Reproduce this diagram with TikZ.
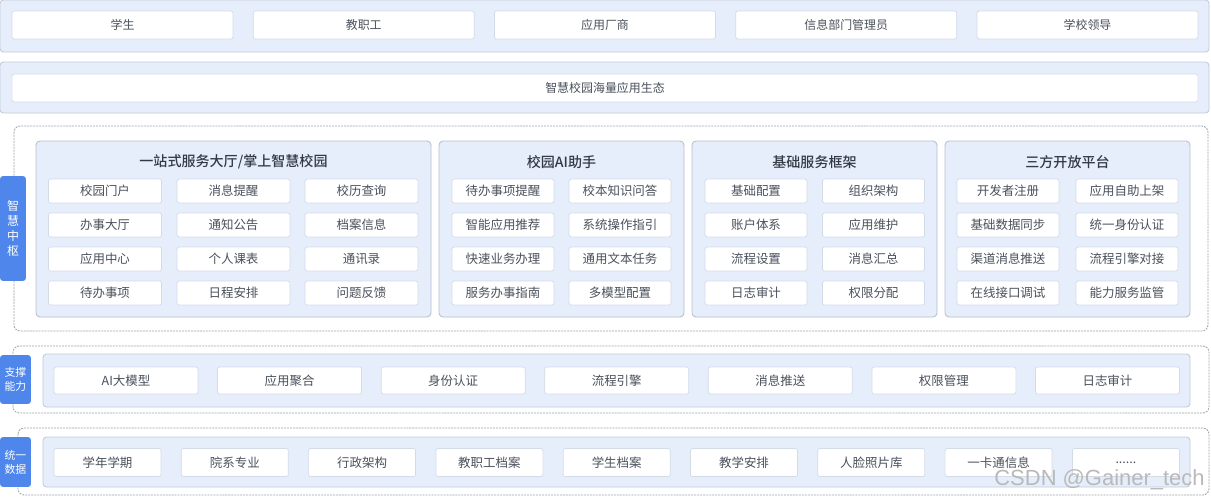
\documentclass[tikz,border=0pt]{standalone}
\usepackage{fontspec}
\setmainfont{Noto Sans CJK SC}[BoldFont={Noto Sans CJK SC Medium}]
\newfontfamily\wmfont{Liberation Sans}
\definecolor{bandbg}{HTML}{E6EEFC}
\definecolor{bandline}{HTML}{C2CBD7}
\definecolor{cellline}{HTML}{D3DBE6}
\definecolor{panelline}{HTML}{B6C0CD}
\definecolor{tabblue}{HTML}{4E86EC}
\definecolor{dotline}{HTML}{9AA3AE}
\definecolor{txt}{HTML}{4A515B}
\definecolor{ttltxt}{HTML}{333A44}
\newcommand\moredots{......}
\tikzset{
  band/.style={fill=bandbg,draw=bandline,line width=0.5pt,rounded corners=2pt},
  panel/.style={fill=bandbg,draw=panelline,line width=0.5pt,rounded corners=2.3pt},
  dots/.style={draw=dotline,line width=0.5pt,dash pattern=on 0.8pt off 0.9pt,rounded corners=3.5pt},
  cell/.style={draw=cellline,fill=white,line width=0.4pt,rounded corners=1.2pt,inner sep=0pt,
    text=txt,font=\fontsize{7.1}{8}\selectfont},
  ttl/.style={inner sep=0pt,text=ttltxt,font=\fontsize{8}{9}\bfseries\selectfont},
  tab/.style={fill=tabblue,rounded corners=1.8pt,inner sep=0pt,text=white,align=center},
}
\begin{document}
\begin{tikzpicture}[x=0.02cm,y=-0.02cm,line join=round,line cap=round]
\useasboundingbox (0,0) rectangle (1211,497);
% users and ecosystem
\draw[band] (0,0) rectangle (1209,52);
\draw[band] (0,62) rectangle (1209,113);
\foreach \n [count=\i from 0] in {学生,教职工,应用厂商,信息部门管理员,学校领导}
  \node[cell,minimum width=4.42cm,minimum height=0.56cm,font=\fontsize{6.8}{8}\selectfont] (u\i) at (122.5+241.25*\i,25) {\n};
\node[cell,minimum width=23.72cm,minimum height=0.56cm,font=\fontsize{6.8}{8}\selectfont] (eco) at (605,88) {智慧校园海量应用生态};
% hub
\draw[dots] (14,126) rectangle (1208,331);
\node[tab,minimum width=0.52cm,minimum height=2.1cm,font=\fontsize{6.8}{8.5}\selectfont] (hub) at (13,228.5) {智\\慧\\中\\枢};
\foreach \x/\y in {36/431, 439/684, 692/937, 945/1190}
  \draw[panel] (\x,141) rectangle (\y,317);
\node[ttl] (t1) at (233.5,162) {一站式服务大厅/掌上智慧校园};
\node[ttl] (t2) at (561.5,162) {校园AI助手};
\node[ttl] (t3) at (814.5,162) {基础服务框架};
\node[ttl] (t4) at (1067.5,162) {三方开放平台};
\foreach \a/\b/\c [count=\r from 0] in {校园门户/消息提醒/校历查询, 办事大厅/通知公告/档案信息,
    应用中心/个人课表/通讯录, 待办事项/日程安排/问题反馈}{
  \node[cell,minimum width=2.26cm,minimum height=0.48cm] (hall-\r-1) at (105,191+34*\r) {\a};
  \node[cell,minimum width=2.26cm,minimum height=0.48cm] (hall-\r-2) at (233.5,191+34*\r) {\b};
  \node[cell,minimum width=2.26cm,minimum height=0.48cm] (hall-\r-3) at (361.5,191+34*\r) {\c};
}
\foreach \a/\b [count=\r from 0] in {待办事项提醒/校本知识问答, 智能应用推荐/系统操作指引,
    快速业务办理/通用文本任务, 服务办事指南/多模型配置}{
  \node[cell,minimum width=2.04cm,minimum height=0.48cm] (ai-\r-1) at (503,191+34*\r) {\a};
  \node[cell,minimum width=2.04cm,minimum height=0.48cm] (ai-\r-2) at (620,191+34*\r) {\b};
}
\foreach \a/\b [count=\r from 0] in {基础配置/组织架构, 账户体系/应用维护, 流程设置/消息汇总, 日志审计/权限分配}{
  \node[cell,minimum width=2.04cm,minimum height=0.48cm] (fw-\r-1) at (756,191+34*\r) {\a};
  \node[cell,minimum width=2.04cm,minimum height=0.48cm] (fw-\r-2) at (873.5,191+34*\r) {\b};
}
\foreach \a/\b [count=\r from 0] in {开发者注册/应用自助上架, 基础数据同步/统一身份认证,
    渠道消息推送/流程引擎对接, 在线接口调试/能力服务监管}{
  \node[cell,minimum width=2.04cm,minimum height=0.48cm] (op-\r-1) at (1008,191+34*\r) {\a};
  \node[cell,minimum width=2.04cm,minimum height=0.48cm] (op-\r-2) at (1127,191+34*\r) {\b};
}
% support
\draw[dots] (13,346) rectangle (1209,413);
\draw[band] (43,354) rectangle (1190,407);
\node[tab,minimum width=0.62cm,minimum height=0.98cm,font=\fontsize{6.2}{8}\selectfont] (sup) at (15.5,379.5) {支撑\\能力};
\foreach \n [count=\i from 0] in {AI大模型,应用聚合,身份认证,流程引擎,消息推送,权限管理,日志审计}
  \node[cell,minimum width=2.88cm,minimum height=0.54cm] (s\i) at (126+163.58*\i,380.5) {\n};
% data
\draw[dots] (18,428) rectangle (1209,495);
\draw[band] (43,437) rectangle (1190,487);
\node[tab,minimum width=0.62cm,minimum height=1cm,font=\fontsize{6.2}{8}\selectfont] (dat) at (15.5,462) {统一\\数据};
\foreach \n [count=\i from 0] in {学年学期,院系专业,行政架构,教职工档案,学生档案,教学安排,人脸照片库,一卡通信息,\moredots}
  \node[cell,minimum width=2.14cm,minimum height=0.56cm] (d\i) at (107.5+127.3*\i,462.5) {\n};
\node[anchor=base east,inner sep=0pt,text={gray!55},font=\wmfont\fontsize{12.5}{14}\selectfont] (mark) at (1205,485) {CSDN @Gainer\_tech};
\end{tikzpicture}
\end{document}
